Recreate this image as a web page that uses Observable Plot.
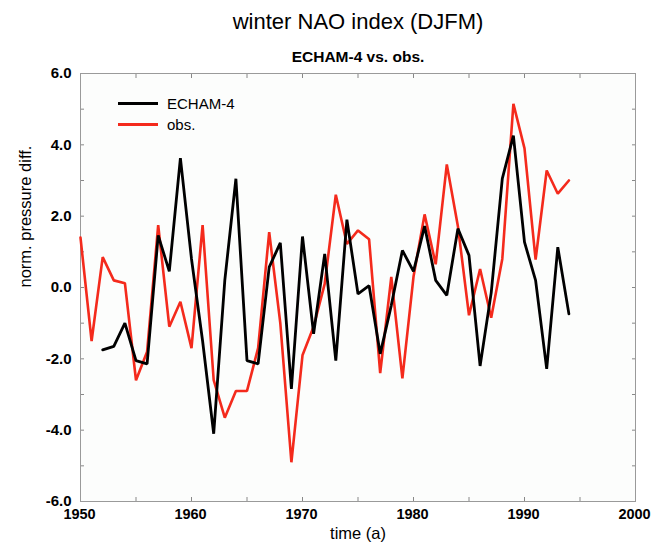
<!DOCTYPE html>
<html>
<head>
<meta charset="utf-8">
<script src="https://cdn.jsdelivr.net/npm/d3@7"></script>
<script src="https://cdn.jsdelivr.net/npm/@observablehq/plot@0.6"></script>
<style>
  html, body { margin: 0; padding: 0; background: #ffffff; }
  #wrap { position: relative; width: 651px; height: 547px; font-family: "Liberation Sans", Arial, Helvetica, sans-serif; }
  .title { position: absolute; left: 0; width: 651px; padding-left: 65px; box-sizing: border-box; text-align: center; color: #000; }
  #t1 { top: 8px; font-size: 22px; line-height: 28px; }
  #t2 { top: 48px; font-size: 15.5px; line-height: 18px; font-weight: bold; }
  #legend { position: absolute; left: 118px; top: 93px; font-size: 15px; color: #000; }
  .lg { display: flex; align-items: center; height: 21px; }
  .sw { width: 40px; height: 3px; margin-right: 9px; }
  #chart { position: absolute; left: 0; top: 0; }
</style>
</head>
<body>
<div id="wrap">
  <div id="chart"></div>
  <div class="title" id="t1">winter NAO index (DJFM)</div>
  <div class="title" id="t2">ECHAM-4 vs. obs.</div>
  <div id="legend"></div>
</div>
<script>
// ---- data ----
const obsYears = d3.range(1950, 1995);
const obsValues = [
  1.4, -1.5, 0.85, 0.2, 0.12, -2.6, -1.8, 1.75, -1.1, -0.4,
  -1.7, 1.75, -2.6, -3.65, -2.9, -2.9, -1.7, 1.55, -1.0, -4.9,
  -1.9, -1.1, 0.1, 2.6, 1.22, 1.6, 1.35, -2.4, 0.3, -2.55,
  0.3, 2.05, 0.65, 3.45, 1.72, -0.78, 0.52, -0.85, 0.8, 5.15,
  3.9, 0.78, 3.28, 2.63, 3.0
];
const echamYears = d3.range(1952, 1995);
const echamValues = [
  -1.75, -1.65, -1.0, -2.05, -2.14, 1.46, 0.45, 3.63,
  0.8, -1.5, -4.1, 0.2, 3.05, -2.05, -2.14, 0.57, 1.25, -2.84,
  1.43, -1.3, 0.94, -2.05, 1.9, -0.18, 0.05, -1.86, -0.5, 1.04,
  0.45, 1.72, 0.2, -0.22, 1.65, 0.9, -2.2, -0.15, 3.05, 4.26,
  1.27, 0.2, -2.28, 1.13, -0.74
];
const seriesNames = ["ECHAM-4", "obs."];
const seriesColors = ["#000000", "#f42a1c"];
const xTicks = [1950, 1960, 1970, 1980, 1990, 2000];
const yTicks = [-6, -4, -2, 0, 2, 4, 6];
const yTitle = "norm. pressure diff.";
const xTitle = "time (a)";

const obs = obsYears.map((y, i) => ({year: y, value: obsValues[i]}));
const echam = echamYears.map((y, i) => ({year: y, value: echamValues[i]}));

const font = "'Liberation Sans', Arial, Helvetica, sans-serif";

const plot = Plot.plot({
  width: 651,
  height: 547,
  marginTop: 73,
  marginBottom: 46,
  marginLeft: 80,
  marginRight: 16,
  style: {fontFamily: font, background: "transparent", color: "#000"},
  x: {domain: [1950, 2000]},
  y: {domain: [-6, 6]},
  marks: [
    Plot.frame({fill: "#fcfdfc", stroke: "none"}),
    Plot.axisX({ticks: xTicks, tickFormat: d => String(d), tickSize: 0, tickPadding: 7, fontSize: 14.5, fontWeight: "bold", label: null, dx: -1}),
    Plot.axisY({ticks: yTicks, tickFormat: d => d.toFixed(1), tickSize: 0, tickPadding: 9, fontSize: 15, fontWeight: "bold", label: null}),
    Plot.axisY({ticks: d3.range(-6, 7), anchor: "left", tickSize: -4, text: null, label: null, stroke: "#888"}),
    Plot.axisY({ticks: d3.range(-6, 7), anchor: "right", tickSize: -4, text: null, label: null, stroke: "#888"}),
    Plot.axisX({ticks: d3.range(1950, 2001, 5), anchor: "bottom", tickSize: -4, text: null, label: null, stroke: "#888"}),
    Plot.axisX({ticks: d3.range(1950, 2001, 5), anchor: "top", tickSize: -4, text: null, label: null, stroke: "#888"}),
    Plot.frame({stroke: "#9a9a9a", strokeWidth: 1}),
    Plot.line(obs, {x: "year", y: "value", stroke: seriesColors[1], strokeWidth: 2.6, strokeLinejoin: "miter"}),
    Plot.line(echam, {x: "year", y: "value", stroke: seriesColors[0], strokeWidth: 2.8, strokeLinejoin: "miter"}),
    Plot.text([yTitle], {text: d => d, frameAnchor: "left", dx: -55, rotate: -90, fontSize: 16.5, fill: "#000"}),
    Plot.text([xTitle], {text: d => d, frameAnchor: "bottom", dy: 37, fontSize: 16.5, fill: "#000"})
  ]
});
document.getElementById("chart").appendChild(plot);

const lg = document.getElementById("legend");
seriesNames.forEach((n, i) => {
  const row = document.createElement("div");
  row.className = "lg";
  const sw = document.createElement("div");
  sw.className = "sw";
  sw.style.background = seriesColors[i];
  const t = document.createElement("span");
  t.textContent = n;
  row.appendChild(sw);
  row.appendChild(t);
  lg.appendChild(row);
});
</script>
</body>
</html>
